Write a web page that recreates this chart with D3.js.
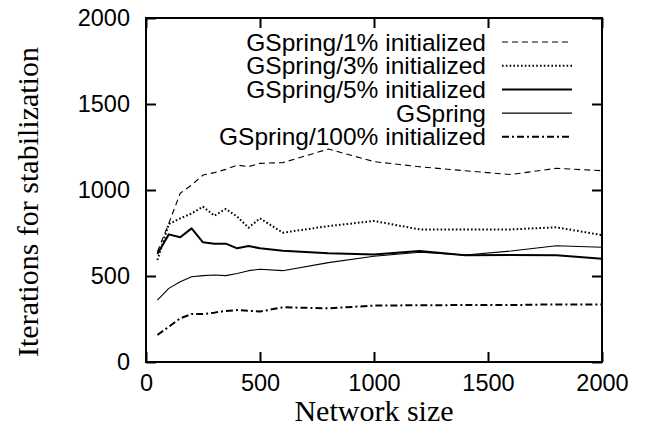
<!DOCTYPE html>
<html><head><meta charset="utf-8">
<script src="https://cdn.jsdelivr.net/npm/d3@7"></script>
<style>
body{margin:0;background:#fff;}
svg{display:block;}
</style></head>
<body>
<svg id="chart" width="646" height="437"></svg>
<script>
const networkSizes = [50,100,150,200,250,300,350,400,450,500,600,800,1000,1200,1400,1600,1800,2000];
const init1   = [641,806,981,1029,1087,1101,1120,1145,1136,1155,1159,1238,1165,1135,1112,1090,1126,1112];
const init3   = [593,802,835,864,903,851,890,845,781,835,752,790,820,771,771,771,783,738];
const init5   = [628,742,725,777,696,688,688,661,674,661,647,632,625,645,620,622,621,600];
const gspring = [360,428,467,496,502,506,502,515,531,539,531,578,615,638,622,645,676,667];
const init100 = [157,205,254,279,279,287,297,302,298,293,318,312,328,330,331,331,335,335];
const seriesNames = ["GSpring/1% initialized","GSpring/3% initialized","GSpring/5% initialized","GSpring","GSpring/100% initialized"];
const xTicks = [0,500,1000,1500,2000];
const yTicks = [0,500,1000,1500,2000];

const series = [
  {name: seriesNames[0], values: init1,   dash: "6,4",     width: 1.1},
  {name: seriesNames[1], values: init3,   dash: "1.6,2.2", width: 2},
  {name: seriesNames[2], values: init5,   dash: null,      width: 2},
  {name: seriesNames[3], values: gspring, dash: null,      width: 1.1},
  {name: seriesNames[4], values: init100, dash: "7,3,2,3", width: 2}
];

const svg = d3.select("#chart");
const pL = 146, pR = 602, pT = 18, pB = 362;
const x = d3.scaleLinear().domain([0,2000]).range([pL,pR]);
const y = d3.scaleLinear().domain([0,2000]).range([pB,pT]);
const sans = "'Liberation Sans', Arial, Helvetica, sans-serif";
const serif = "'Liberation Serif', 'Times New Roman', Times, serif";

function styleAxis(g){
  g.select(".domain").remove();
  g.selectAll(".tick line").attr("stroke","#000").attr("stroke-width",2);
  g.selectAll("text").attr("font-family",sans).attr("font-size",23.5).attr("fill","#000");
}
svg.append("g").attr("transform",`translate(${pL},0)`)
  .call(d3.axisLeft(y).tickValues(yTicks).tickSize(-10).tickPadding(16).tickFormat(d3.format("d")))
  .call(styleAxis);
svg.append("g").attr("transform",`translate(${pR},0)`)
  .call(d3.axisRight(y).tickValues(yTicks).tickSize(-10).tickFormat(""))
  .call(styleAxis);
svg.append("g").attr("transform",`translate(0,${pB})`)
  .call(d3.axisBottom(x).tickValues(xTicks).tickSize(-10).tickPadding(12).tickFormat(d3.format("d")))
  .call(styleAxis);
svg.append("g").attr("transform",`translate(0,${pT})`)
  .call(d3.axisTop(x).tickValues(xTicks).tickSize(-10).tickFormat(""))
  .call(styleAxis);

svg.append("rect").attr("x",pL).attr("y",pT).attr("width",pR-pL).attr("height",pB-pT)
  .attr("fill","none").attr("stroke","#000").attr("stroke-width",2);

const line = d3.line().x((d,i)=>x(networkSizes[i])).y(d=>y(d));
series.forEach(s=>{
  svg.append("path").datum(s.values).attr("d",line)
    .attr("fill","none").attr("stroke","#000").attr("stroke-width",s.width)
    .attr("stroke-dasharray",s.dash).attr("stroke-linejoin","round");
});

// legend
const leg = svg.append("g");
series.forEach((s,i)=>{
  const yy = 42 + i*23.7;
  leg.append("text").attr("x",486).attr("y",yy+8.5).attr("text-anchor","end")
    .attr("font-family",sans).attr("font-size",24.5).attr("fill","#000").text(s.name);
  leg.append("line").attr("x1",502).attr("x2",572).attr("y1",yy).attr("y2",yy)
    .attr("stroke","#000").attr("stroke-width",s.width).attr("stroke-dasharray",s.dash);
});

// axis titles
svg.append("text").attr("x",(pL+pR)/2).attr("y",421).attr("text-anchor","middle")
  .attr("font-family",serif).attr("font-size",30).attr("fill","#000").text("Network size");
svg.append("text").attr("transform",`translate(38,${(pT+pB)/2+12}) rotate(-90)`).attr("text-anchor","middle")
  .attr("font-family",serif).attr("font-size",30).attr("fill","#000").text("Iterations for stabilization");
</script>
</body></html>
